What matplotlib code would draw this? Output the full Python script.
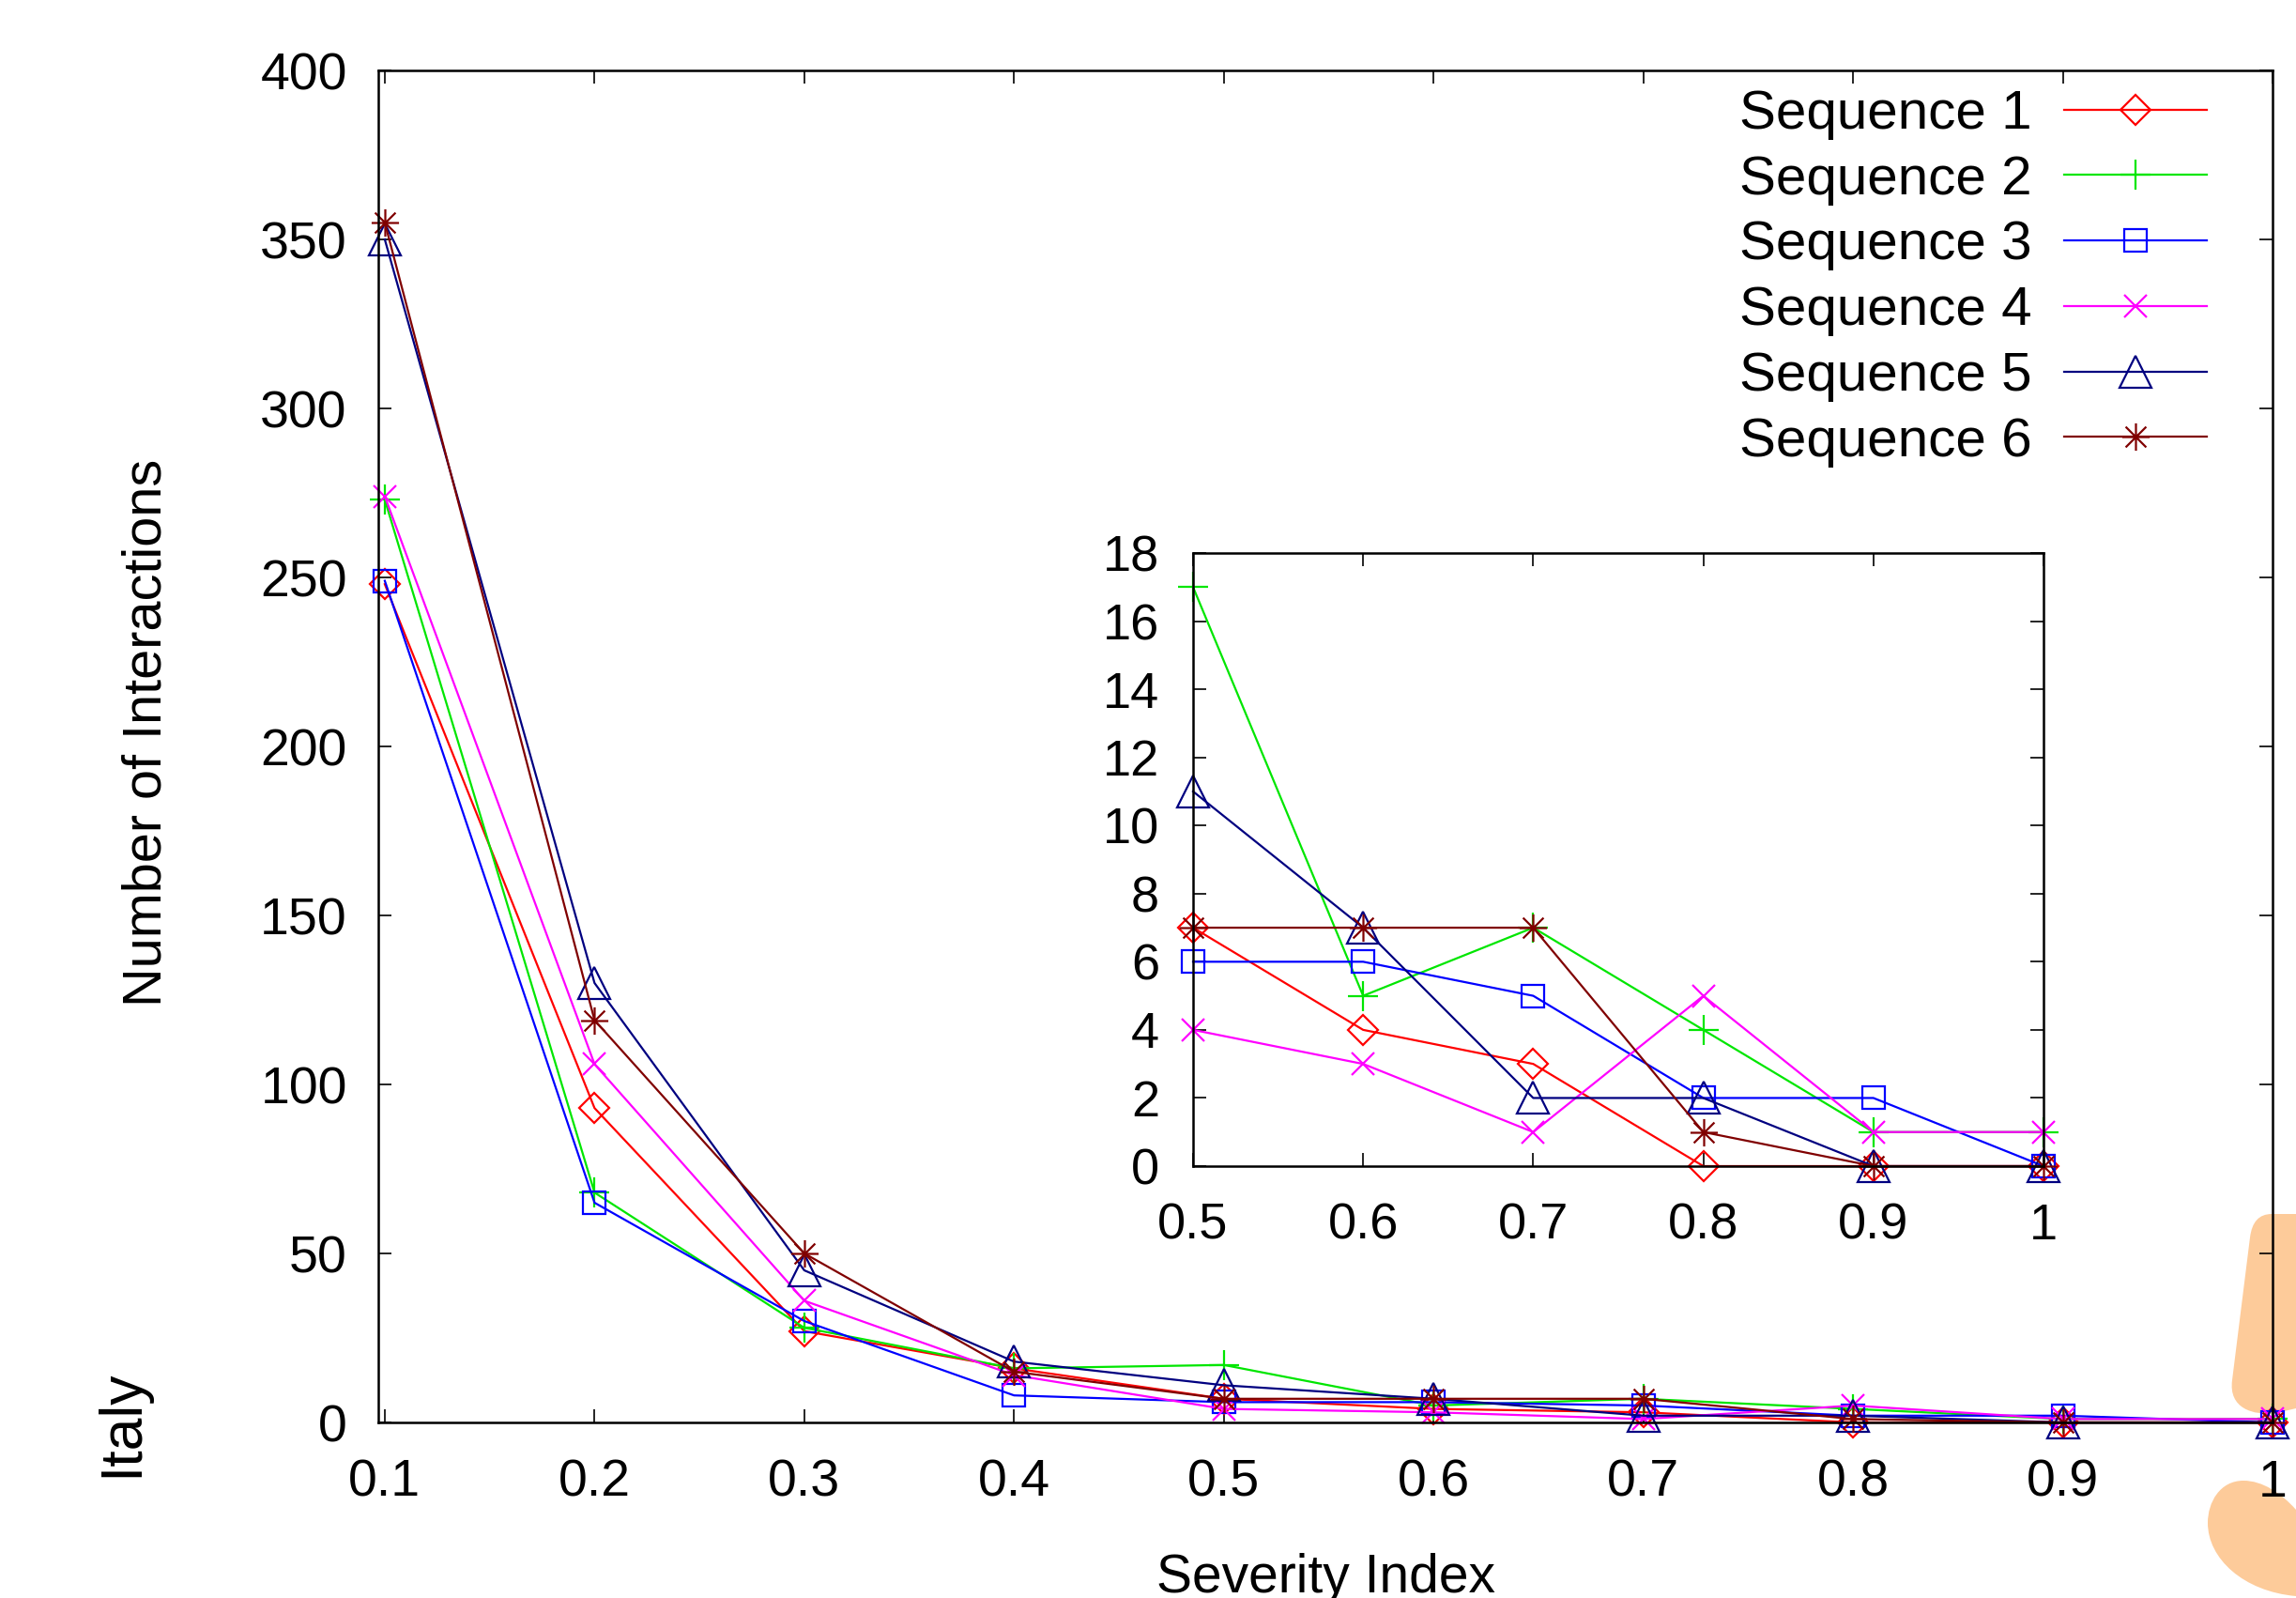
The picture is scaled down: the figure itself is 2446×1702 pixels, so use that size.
import matplotlib
matplotlib.use("Agg")
import matplotlib.pyplot as plt
from matplotlib.path import Path
from matplotlib.patches import PathPatch
import numpy as np

plt.rcParams['font.family'] = ['Liberation Sans', 'DejaVu Sans']

# ---- data ----
severity = [0.1, 0.2, 0.3, 0.4, 0.5, 0.6, 0.7, 0.8, 0.9, 1.0]
seq1 = [248, 93, 27, 16, 7, 4, 3, 0, 0, 0]
seq2 = [273, 68, 28, 16, 17, 5, 7, 4, 1, 1]
seq3 = [249, 65, 30, 8, 6, 6, 5, 2, 2, 0]
seq4 = [274, 106, 36, 14, 4, 3, 1, 5, 1, 1]
seq5 = [350, 130, 45, 18, 11, 7, 2, 2, 0, 0]
seq6 = [355, 119, 50, 15, 7, 7, 7, 1, 0, 0]
labels = ["Sequence 1", "Sequence 2", "Sequence 3", "Sequence 4", "Sequence 5", "Sequence 6"]
main_xticks = [0.1, 0.2, 0.3, 0.4, 0.5, 0.6, 0.7, 0.8, 0.9, 1.0]
main_xticklabels = ["0.1", "0.2", "0.3", "0.4", "0.5", "0.6", "0.7", "0.8", "0.9", "1"]
main_yticks = [0, 50, 100, 150, 200, 250, 300, 350, 400]
inset_xticks = [0.5, 0.6, 0.7, 0.8, 0.9, 1.0]
inset_xticklabels = ["0.5", "0.6", "0.7", "0.8", "0.9", "1"]
inset_yticks = [0, 2, 4, 6, 8, 10, 12, 14, 16, 18]

series = [seq1, seq2, seq3, seq4, seq5, seq6]
colors = ["#ff0000", "#00e600", "#0000ff", "#ff00ff", "#000080", "#800000"]

# asterisk marker (gnuplot style)
d = 0.75
star_path = Path(
    [(0, -1), (0, 1), (-1, 0), (1, 0), (-d, -d), (d, d), (-d, d), (d, -d)],
    [Path.MOVETO, Path.LINETO] * 4)
markers = ["D", "+", "s", "x", "^", star_path]
msizes = [16, 23, 17, 17, 24, 21]

W, H = 2446, 1702
fig = plt.figure(figsize=(W / 100, H / 100), dpi=100)
fig.patch.set_facecolor("white")

def px(x0, y0, x1, y1):
    return [x0 / W, 1 - y1 / H, (x1 - x0) / W, (y1 - y0) / H]

# decorative blobs (behind axes)
blob_color = "#fdcb9a"
def to_fig(pts):
    return [(x / W, 1 - y / H) for x, y in pts]

b1 = Path(to_fig([(2446, 1293), (2420, 1293), (2400, 1293), (2397, 1318),
                  (2378, 1470), (2374, 1500), (2400, 1508), (2425, 1505),
                  (2446, 1500), (2446, 1293)]),
          [Path.MOVETO, Path.LINETO, Path.CURVE3, Path.CURVE3,
           Path.LINETO, Path.CURVE4, Path.CURVE4, Path.CURVE4,
           Path.LINETO, Path.CLOSEPOLY])
b2 = Path(to_fig([(2446, 1608), (2430, 1590), (2410, 1577), (2390, 1577),
                  (2365, 1577), (2352, 1600), (2352, 1622),
                  (2352, 1660), (2390, 1695), (2446, 1700), (2446, 1608)]),
          [Path.MOVETO, Path.CURVE4, Path.CURVE4, Path.CURVE4,
           Path.CURVE4, Path.CURVE4, Path.CURVE4,
           Path.CURVE4, Path.CURVE4, Path.CURVE4, Path.CLOSEPOLY])
for b in (b1, b2):
    p = PathPatch(b, transform=fig.transFigure, facecolor=blob_color,
                  edgecolor="none", zorder=-5)
    fig.add_artist(p)

# ---- main axes ----
ax = fig.add_axes(px(403, 75, 2421, 1515))
ax.set_facecolor("none")
handles = []
for s, c, m, ms, lab in zip(series, colors, markers, msizes, labels):
    h, = ax.plot(severity, s, color=c, lw=1.6, marker=m, ms=ms,
                 mfc="none", mec=c, mew=1.6, clip_on=False, label=lab)
    handles.append(h)
ax.set_xlim(0.0969, 1.0)
ax.set_ylim(0, 400)
ax.set_xticks(main_xticks)
ax.set_xticklabels(main_xticklabels)
ax.set_yticks(main_yticks)
ax.tick_params(direction="in", length=10, width=1.2, top=True, right=True,
               labelsize=40)
ax.tick_params(axis="x", pad=28)
ax.tick_params(axis="y", pad=24)
for sp in ax.spines.values():
    sp.set_linewidth(1.8)

leg = ax.legend(handles=handles, loc="upper right",
                bbox_to_anchor=(2351 / W, 1 - 95 / H), bbox_transform=fig.transFigure,
                fontsize=42, markerfirst=False, frameon=False, handlelength=2.6,
                handletextpad=0.6, labelspacing=0.27, borderpad=0, borderaxespad=0)

# ---- inset ----
ins = fig.add_axes(px(1271, 589, 2177, 1242))
ins.set_facecolor("white")
for s, c, m, ms in zip(series, colors, markers, msizes):
    ins.plot(severity[4:], s[4:], color=c, lw=1.6, marker=m, ms=ms,
             mfc="none", mec=c, mew=1.6, clip_on=False)
ins.set_xlim(0.5, 1.0)
ins.set_ylim(0, 18)
ins.set_xticks(inset_xticks)
ins.set_xticklabels(inset_xticklabels)
ins.set_yticks(inset_yticks)
ins.tick_params(direction="in", length=10, width=1.2, top=True, right=True,
                labelsize=39)
ins.tick_params(axis="x", pad=28)
ins.tick_params(axis="y", pad=26)
for sp in ins.spines.values():
    sp.set_linewidth(1.8)

# ---- texts ----
fig.text(157 / W, 1 - 780 / H, "Number of Interactions", rotation=90,
         ha="center", va="center", fontsize=41.5)
fig.text(130 / W, 1 - 1516 / H, "Italy", rotation=90,
         ha="center", va="center", fontsize=45)
fig.text(1413 / W, 1 - 1696 / H, "Severity Index", ha="center", va="baseline",
         fontsize=41)

fig.savefig("out.png", dpi=100)
